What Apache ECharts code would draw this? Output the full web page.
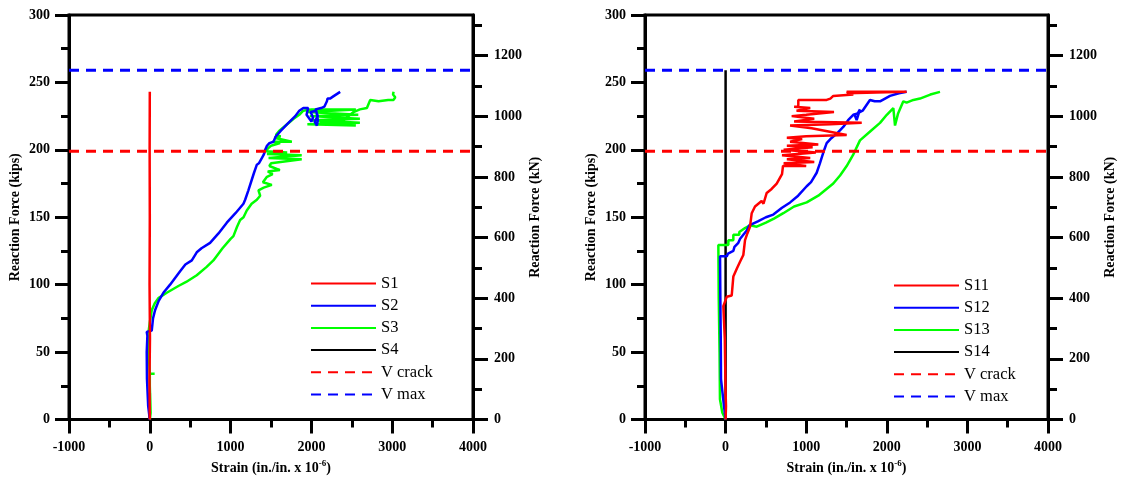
<!DOCTYPE html>
<html>
<head>
<meta charset="utf-8">
<script src="https://cdn.jsdelivr.net/npm/echarts@6/dist/echarts.min.js"></script>
<style>
html,body{margin:0;padding:0;background:#fff;}
#chart{width:1123px;height:479px;}
</style>
</head>
<body>
<div id="chart"></div>
<script>
// ---------- data ----------
const strainTicks = [-1000, 0, 1000, 2000, 3000, 4000];
const kipsTicks = [0, 50, 100, 150, 200, 250, 300];
const kNMajorTicks = [0, 200, 400, 600, 800, 1000, 1200];
const kNMinorTicks = [100, 300, 500, 700, 900, 1100, 1300];
const KIPS_TO_KN = 4.448;
const V_CRACK = 199;
const V_MAX = 259;

// left panel: strain (microstrain), reaction force (kips)
const s1 = [[0,0],[-4,30],[2,60],[-3,100],[0,150],[-2,200],[0,243]];
const s2 = [[0,0],[-20,10],[-35,30],[-38,50],[-30,62],[-38,65],[24,66],[40,75],[65,81],[110,88],[168,94],[251,100],[375,110],[440,115],[520,118],[581,124],[640,127],[746,131],[850,138],[953,146],[1060,153],[1159,160],[1180,163],[1220,170],[1263,178],[1290,183],[1325,189],[1350,190],[1407,196],[1420,198],[1428,200],[1450,203],[1480,205],[1530,206],[1560,210],[1620,214],[1700,219],[1800,225],[1850,229],[1900,231],[1960,231],[1940,226],[2000,221],[2020,224],[1990,228],[2060,229],[2080,222],[2068,218],[2040,221],[2080,225],[2050,230],[2120,231],[2160,232],[2192,236],[2200,238],[2230,238],[2280,240],[2356,243]];
const s3 = [[0,0],[10,5],[5,15],[0,25],[0,34],[60,34],[0,34],[-10,45],[-18,64],[0,72],[24,81],[60,86],[106,90],[210,94],[354,99],[450,102],[581,107],[700,113],[787,118],[900,127],[1000,134],[1035,136],[1080,143],[1118,148],[1160,150],[1200,155],[1260,160],[1325,163],[1366,166],[1345,170],[1410,172],[1510,174],[1400,176],[1450,180],[1520,182],[1460,184],[1610,185],[1480,188],[1500,190],[1880,193],[1470,194],[1880,196],[1450,197],[1700,198],[1440,199],[1460,201],[1500,203],[1613,205],[1520,206],[1758,206],[1540,209],[1620,210],[1560,211],[1600,214],[1700,219],[1780,223],[1850,226],[1900,229],[2000,230],[2550,230],[1950,228],[2580,226],[1980,225],[2600,223],[2000,222],[2600,220],[1950,219],[2550,218],[2100,220],[2400,222],[2521,228],[2600,230],[2687,231],[2728,237],[2831,236],[2950,237],[3017,237],[3038,239],[3010,241],[3017,243]];
const s4 = [[0,0],[0,20]];

// right panel
const s11 = [[0,0],[5,10],[0,20],[-5,40],[-10,60],[-28,84],[14,91],[76,92],[96,106],[140,112],[179,117],[220,122],[241,133],[270,138],[303,143],[324,153],[365,158],[447,162],[470,160],[510,168],[571,171],[634,175],[700,182],[712,188],[1000,188],[720,190],[1100,191],[760,193],[1050,194],[700,196],[1120,198],[720,200],[1080,202],[760,203],[1150,204],[800,206],[950,208],[760,209],[1000,210],[1502,211],[1068,216],[800,218],[1300,219],[1689,220],[850,221],[1100,223],[820,225],[1000,226],[1345,228],[880,229],[1050,231],[850,232],[902,232],[902,237],[1254,237],[1300,238],[1336,240],[1584,241],[1502,243],[2246,243],[1502,242]];
const s12 = [[0,0],[-20,10],[-57,30],[-60,60],[-65,90],[-69,121],[14,121],[30,123],[96,125],[110,128],[158,131],[180,134],[220,137],[260,140],[294,144],[400,147],[500,150],[592,152],[700,157],[801,161],[900,166],[1006,173],[1060,176],[1130,183],[1170,190],[1212,198],[1254,205],[1300,208],[1380,212],[1460,217],[1520,222],[1584,226],[1640,227],[1667,230],[1626,222],[1600,226],[1700,229],[1791,237],[1850,236],[1916,236],[2040,240],[2150,242],[2246,243]];
const s13 = [[0,0],[-40,5],[-70,15],[-75,50],[-85,90],[-90,129.5],[34,129.5],[34,133],[96,133],[96,137],[170,137],[170,139],[241,142],[303,144],[386,143],[500,146],[600,149],[716,153],[850,158],[1006,161],[1150,166],[1336,175],[1420,181],[1502,188],[1580,196],[1667,207],[1800,214],[1916,220],[2000,226],[2081,231],[2102,218],[2140,227],[2205,236],[2246,235],[2330,237],[2412,238],[2540,241],[2660,243]];
const s14 = [[0,0],[0,259]];

// ---------- chart ----------
const FONT = 'Liberation Serif';
const RED = '#ff0000', BLUE = '#0000ff', GREEN = '#00ff00', BLACK = '#000000';
const kNMax = 300 * KIPS_TO_KN;
const xSpan = [strainTicks[0], strainTicks[strainTicks.length - 1]];
const plain = v => String(v);

const labelStyle = { fontFamily: FONT, fontWeight: 'bold', fontSize: 14, color: '#000', formatter: plain };
const nameStyle = { fontFamily: FONT, fontWeight: 'bold', fontSize: 14, color: '#000' };

function xAxisFor(gi) {
  return {
    gridIndex: gi, type: 'value', min: xSpan[0], max: xSpan[1], interval: 1000,
    axisLine: { show: true, onZero: false, lineStyle: { color: '#000', width: 3 } },
    axisTick: { show: true, length: 14, lineStyle: { color: '#000', width: 3 } },
    minorTick: { show: true, splitNumber: 2, length: 8, lineStyle: { color: '#000', width: 3 } },
    axisLabel: Object.assign({ margin: 21 }, labelStyle),
    splitLine: { show: false },
    name: 'Strain (in./in. x 10{sup|-6})',
    nameLocation: 'middle', nameGap: 30,
    nameTextStyle: Object.assign({}, nameStyle, {
      lineHeight: 18,
      rich: { sup: { fontFamily: FONT, fontWeight: 'bold', fontSize: 9, verticalAlign: 'top', lineHeight: 9, color: '#000' } }
    })
  };
}
function kipsAxisFor(gi) {
  return {
    gridIndex: gi, type: 'value', min: 0, max: 300, interval: 50, position: 'left',
    axisLine: { show: true, onZero: false, lineStyle: { color: '#000', width: 3 } },
    axisTick: { show: true, length: 14, lineStyle: { color: '#000', width: 3 } },
    minorTick: { show: true, splitNumber: 2, length: 8, lineStyle: { color: '#000', width: 3 } },
    axisLabel: Object.assign({ margin: 19 }, labelStyle),
    splitLine: { show: false },
    name: 'Reaction Force (kips)', nameLocation: 'middle', nameRotate: 90, nameGap: 47,
    nameTextStyle: nameStyle
  };
}
function kNAxisFor(gi) {
  return {
    gridIndex: gi, type: 'value', min: 0, max: kNMax, position: 'right',
    axisLine: { show: true, onZero: false, lineStyle: { color: '#000', width: 3 } },
    axisTick: { show: true, length: 15, customValues: kNMajorTicks, lineStyle: { color: '#000', width: 3 } },
    axisLabel: Object.assign({ margin: 21, customValues: kNMajorTicks }, labelStyle),
    splitLine: { show: false },
    name: 'Reaction Force (kN)', nameLocation: 'middle', nameRotate: 90, nameGap: 55,
    nameTextStyle: nameStyle
  };
}
function kNMinorAxisFor(gi) {
  return {
    gridIndex: gi, type: 'value', min: 0, max: kNMax, position: 'right',
    axisLine: { show: false, onZero: false },
    axisTick: { show: true, length: 9, customValues: kNMinorTicks, lineStyle: { color: '#000', width: 3 } },
    axisLabel: { show: false },
    splitLine: { show: false }
  };
}

function curve(name, data, color, xi, yi) {
  return { name, type: 'line', data, xAxisIndex: xi, yAxisIndex: yi, symbol: 'none', showSymbol: false,
    lineStyle: { color, width: 2.5 }, itemStyle: { color }, silent: true };
}
function hline(name, value, color, xi, yi) {
  return { name, type: 'line', data: [[xSpan[0], value], [xSpan[1], value]], xAxisIndex: xi, yAxisIndex: yi,
    symbol: 'none', showSymbol: false, lineStyle: { color, width: 3, type: [10, 7] }, itemStyle: { color }, silent: true };
}

const legendText = { fontFamily: FONT, fontSize: 16.5, color: '#000' };
const legendCommon = { orient: 'vertical', itemWidth: 65, itemHeight: 14, itemGap: 5.2, padding: 0,
  textStyle: legendText, selectedMode: false, itemStyle: { opacity: 0 } };

const gridCommon = { top: 15, bottom: 59.5, show: true, borderColor: '#000', borderWidth: 3,
  backgroundColor: 'transparent', containLabel: false, outerBoundsMode: 'none' };

const option = {
  animation: false,
  backgroundColor: '#fff',
  grid: [
    Object.assign({ left: 69, right: 650 }, gridCommon),
    Object.assign({ left: 645, right: 75 }, gridCommon)
  ],
  xAxis: [xAxisFor(0), xAxisFor(1)],
  yAxis: [kipsAxisFor(0), kNAxisFor(0), kNMinorAxisFor(0), kipsAxisFor(1), kNAxisFor(1), kNMinorAxisFor(1)],
  legend: [
    Object.assign({ left: 310, top: 275, data: ['S1', 'S2', 'S3', 'S4', 'V crack', 'V max'] }, legendCommon),
    Object.assign({ left: 893, top: 277, data: ['S11', 'S12', 'S13', 'S14', 'V crack', 'V max'] }, legendCommon)
  ],
  series: [
    curve('S4', s4, BLACK, 0, 0),
    curve('S3', s3, GREEN, 0, 0),
    curve('S2', s2, BLUE, 0, 0),
    curve('S1', s1, RED, 0, 0),
    hline('V crack', V_CRACK, RED, 0, 0),
    hline('V max', V_MAX, BLUE, 0, 0),
    curve('S14', s14, BLACK, 1, 3),
    curve('S13', s13, GREEN, 1, 3),
    curve('S12', s12, BLUE, 1, 3),
    curve('S11', s11, RED, 1, 3),
    hline('V crack', V_CRACK, RED, 1, 3),
    hline('V max', V_MAX, BLUE, 1, 3)
  ]
};

const chart = echarts.init(document.getElementById('chart'), null, { renderer: 'canvas' });
chart.setOption(option);
</script>
</body>
</html>
